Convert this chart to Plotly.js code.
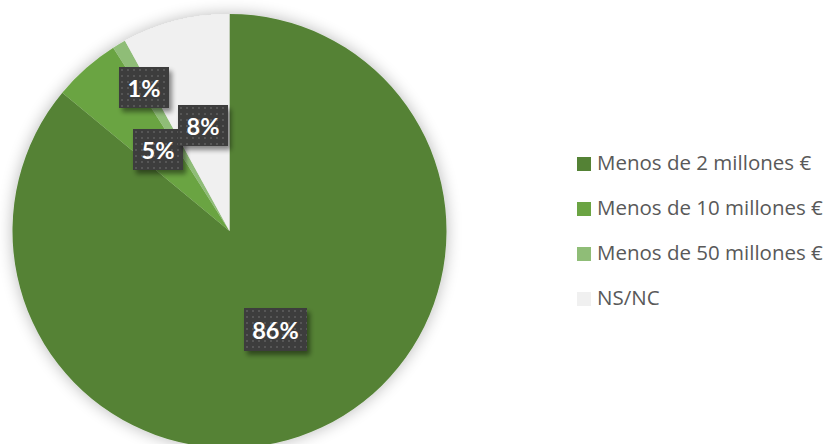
<!DOCTYPE html>
<html><head><meta charset="utf-8">
<script src="https://cdn.plot.ly/plotly-3.0.1.min.js"></script>
<style>
html,body{margin:0;padding:0;overflow:hidden;background:#fff;width:831px;height:444px}
#chart{width:831px;height:462px}
.pielayer{filter:url(#pieShadow)}
.annotation rect.bg{fill:url(#dots) !important;filter:url(#boxShadow)}
.legend .legendtext{font-size:20.5px !important;transform:translate(-7px,-6.5px)}
.legend path.legendpie{transform:translate(20px,0px) scale(1.1667)}
</style></head>
<body>
<svg width="0" height="0" style="position:absolute">
<defs>
<pattern id="dots" width="6" height="6" patternUnits="userSpaceOnUse">
<rect width="6" height="6" fill="#3d3d3d"/>
<rect x="2" y="2" width="2" height="2" fill="#575757"/>
</pattern>
<filter id="pieShadow" x="-20%" y="-20%" width="140%" height="140%">
<feGaussianBlur in="SourceAlpha" stdDeviation="8"/>
<feComponentTransfer><feFuncA type="linear" slope="0.28"/></feComponentTransfer>
<feMerge><feMergeNode/><feMergeNode in="SourceGraphic"/></feMerge>
</filter>
<filter id="boxShadow" x="-40%" y="-40%" width="180%" height="180%">
<feGaussianBlur in="SourceAlpha" stdDeviation="2.5"/>
<feOffset dx="3" dy="4" result="o"/>
<feComponentTransfer><feFuncA type="linear" slope="0.45"/></feComponentTransfer>
<feMerge><feMergeNode/><feMergeNode in="SourceGraphic"/></feMerge>
</filter>
</defs></svg>
<div id="chart"></div>
<script>
const categories = ['Menos de 2 millones €','Menos de 10 millones €','Menos de 50 millones €','NS/NC'];
const values = [86, 5, 1, 8];
const colors = ['#548235','#6BA443','#8FBD77','#F0F0F0'];

// layout geometry (pixels)
const W = 831, H = 462, R = 217, CX = 229.5, CY = 231;
const labelRadius = [0.5, 0.5, 0.77, 0.5];
const boxW = [63, 50, 50, 50];
const boxH = [43, 41, 41, 41];

const total = values.reduce((a,b)=>a+b,0);
let cum = 0;
const annotations = values.map((v,i)=>{
  const mid = (cum + v/2)/total*2*Math.PI;
  cum += v;
  const px = CX + labelRadius[i]*R*Math.sin(mid);
  const py = CY - labelRadius[i]*R*Math.cos(mid);
  return {
    xref:'paper', yref:'paper', x:px/W, y:1-py/H,
    xanchor:'center', yanchor:'middle', showarrow:false,
    text: Math.round(v/total*100)+'%',
    font:{family:'Lato', size:23.5, color:'#ffffff', weight:700},
    bgcolor:'#3d3d3d', borderpad:0, borderwidth:0,
    width:boxW[i], height:boxH[i]
  };
});

const trace = {
  type:'pie', labels:categories, values:values,
  marker:{colors:colors, line:{width:0}},
  sort:false, direction:'clockwise', rotation:0,
  textinfo:'none', hoverinfo:'none',
  domain:{x:[(CX-R)/W,(CX+R)/W], y:[0,1]}
};

const layout = {
  width:W, height:H,
  margin:{l:0,r:0,t:0,b:0,autoexpand:false},
  paper_bgcolor:'#ffffff', plot_bgcolor:'#ffffff',
  showlegend:true,
  legend:{x:564/W, y:1-231.5/H, xanchor:'left', yanchor:'middle',
    font:{family:'Open Sans', size:32.3, color:'#595959'},
    bgcolor:'rgba(0,0,0,0)', borderwidth:0, traceorder:'normal'},
  annotations:annotations
};

Plotly.newPlot('chart',[trace],layout,{staticPlot:true,displayModeBar:false});
</script>
</body></html>
